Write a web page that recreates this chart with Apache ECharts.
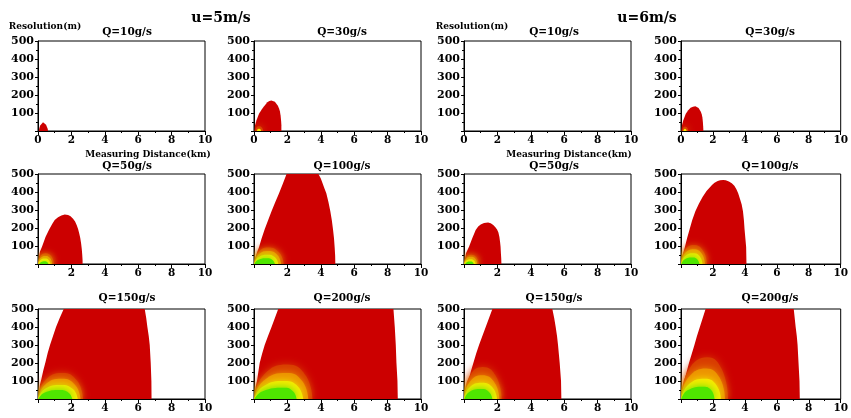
<!DOCTYPE html>
<html><head><meta charset="utf-8">
<script src="https://cdn.jsdelivr.net/npm/echarts@6/dist/echarts.min.js"></script>
<style>html,body{margin:0;padding:0;background:#fff}#c{width:851px;height:418px}</style>
</head><body><div id="c"></div>
<script>
// ---------- tick labels / titles ----------
const xTicks = [0, 2, 4, 6, 8, 10];
const yTicks = [0, 100, 200, 300, 400, 500];
const speedTitles = ['u=5m/s', 'u=6m/s'];
const panelTitles = ['Q=10g/s','Q=30g/s','Q=10g/s','Q=30g/s',
                     'Q=50g/s','Q=100g/s','Q=50g/s','Q=100g/s',
                     'Q=150g/s','Q=200g/s','Q=150g/s','Q=200g/s'];
const yAxisName = 'Resolution(m)';
const xAxisName = 'Measuring Distance(km)';

// ---------- outer (red) boundaries [km, m] ----------
const red_u5_q10 = [[0.05,0],[0.08,15],[0.13,30],[0.2,41],[0.3,48],[0.4,44],[0.48,35],[0.54,24],[0.58,12],[0.6,0]];
const red_u5_q30 = [[0.03,0],[0.06,30],[0.15,60],[0.3,96],[0.45,118],[0.58,135],[0.8,160],[0.92,167],[1.04,170],[1.15,168],[1.25,162],[1.35,152],[1.43,140],[1.5,125],[1.55,110],[1.59,88],[1.62,60],[1.64,30],[1.64,0]];
const red_u5_q50 = [[0.03,0],[0.06,40],[0.12,70],[0.24,96],[0.45,150],[0.66,190],[0.85,222],[1.0,244],[1.2,260],[1.4,270],[1.6,275],[1.8,272],[1.95,265],[2.1,252],[2.22,236],[2.32,215],[2.4,195],[2.47,170],[2.53,145],[2.58,115],[2.62,85],[2.65,50],[2.67,20],[2.67,0]];
const red_u5_q100 = [[0.02,0],[0.05,20],[0.1,40],[0.2,70],[0.3,93],[0.45,140],[0.64,193],[0.85,245],[1.05,293],[1.27,343],[1.5,393],[1.72,445],[1.95,500],[3.86,500],[4.0,475],[4.1,450],[4.22,420],[4.33,393],[4.46,343],[4.57,293],[4.66,243],[4.73,193],[4.79,143],[4.83,93],[4.86,45],[4.87,0]];
const red_u5_q150 = [[0,0],[0.05,35],[0.12,80],[0.2,110],[0.32,160],[0.45,205],[0.58,255],[0.72,300],[0.9,350],[1.08,400],[1.3,450],[1.54,500],[6.39,500],[6.48,450],[6.55,400],[6.63,350],[6.69,300],[6.72,250],[6.75,200],[6.79,100],[6.8,0]];
const red_u5_q200 = [[0,0],[0.04,35],[0.1,70],[0.18,100],[0.26,150],[0.34,200],[0.48,250],[0.64,300],[0.84,350],[1.05,400],[1.25,450],[1.45,500],[8.35,500],[8.43,400],[8.49,300],[8.53,200],[8.59,100],[8.61,0]];
const red_u6_q10 = [];
const red_u6_q30 = [[0.03,0],[0.06,30],[0.14,59],[0.3,96],[0.45,115],[0.6,129],[0.75,135],[0.9,137],[1.0,135],[1.1,128],[1.18,118],[1.25,106],[1.3,92],[1.34,75],[1.37,50],[1.39,25],[1.4,0]];
const red_u6_q50 = [[0.03,0],[0.06,30],[0.12,60],[0.3,96],[0.5,145],[0.7,189],[0.85,208],[1.0,220],[1.2,228],[1.44,230],[1.6,226],[1.75,217],[1.88,204],[1.98,192],[2.06,175],[2.12,150],[2.16,122],[2.19,96],[2.21,60],[2.23,30],[2.24,0]];
const red_u6_q100 = [[0.02,0],[0.04,20],[0.08,40],[0.15,65],[0.24,93],[0.38,143],[0.54,193],[0.7,243],[0.9,293],[1.12,335],[1.35,372],[1.6,405],[1.94,439],[2.1,452],[2.3,461],[2.45,465],[2.64,467],[2.8,465],[3.0,458],[3.18,448],[3.34,435],[3.47,415],[3.58,393],[3.7,360],[3.8,330],[3.88,293],[3.94,243],[3.98,193],[4.03,143],[4.08,93],[4.09,45],[4.1,0]];
const red_u6_q150 = [[0.02,0],[0.08,40],[0.16,70],[0.26,100],[0.4,150],[0.56,200],[0.72,250],[0.9,300],[1.1,350],[1.3,400],[1.5,450],[1.7,500],[5.29,500],[5.4,450],[5.49,400],[5.57,350],[5.63,300],[5.68,250],[5.73,200],[5.81,100],[5.83,0]];
const red_u6_q200 = [[0.02,0],[0.06,40],[0.12,70],[0.2,100],[0.35,150],[0.5,200],[0.67,250],[0.84,300],[1.0,350],[1.18,400],[1.36,450],[1.54,500],[7.06,500],[7.12,450],[7.18,400],[7.25,350],[7.3,300],[7.36,200],[7.42,100],[7.44,0]];

// ---------- inner contour levels (dark orange / orange / yellow / green) ----------
const o1_u5_q30 = [[0.08,0],[0.14,18],[0.3,26],[0.48,18],[0.55,0]];
const y_u5_q30  = [[0.18,0],[0.21,9],[0.3,13],[0.39,9],[0.42,0]];

const o1_u5_q50 = [[0,0],[0.13,42],[0.45,60],[0.81,42],[0.95,0]];
const o2_u5_q50 = [[0.01,0],[0.13,32],[0.45,45],[0.73,32],[0.85,0]];
const y_u5_q50  = [[0.02,0],[0.13,21],[0.42,30],[0.65,21],[0.75,0]];
const g_u5_q50  = [[0.08,0],[0.17,10],[0.4,15],[0.56,10],[0.62,0]];

const o1_u5_q100 = [[0,0],[0.25,64],[0.85,92],[1.51,64],[1.78,0]];
const o2_u5_q100 = [[0,0],[0.25,50],[0.85,72],[1.4,50],[1.62,0]];
const y_u5_q100  = [[0.01,0],[0.24,36],[0.82,52],[1.27,36],[1.45,0]];
const g_u5_q100  = [[0.03,0],[0.23,22],[0.78,32],[1.11,22],[1.25,0]];

const o1_u5_q150 = [[0,0],[0.42,102],[1.45,145],[2.34,102],[2.7,0]];
const o2_u5_q150 = [[0,0],[0.41,78],[1.42,112],[2.22,78],[2.55,0]];
const y_u5_q150  = [[0,0],[0.4,55],[1.38,78],[2.09,55],[2.38,0]];
const g_u5_q150  = [[0.02,0],[0.38,35],[1.3,50],[1.83,35],[2.05,0]];

const o1_u5_q200 = [[0,0],[0.58,134],[2.0,192],[3.07,134],[3.5,0]];
const o2_u5_q200 = [[0,0],[0.57,102],[1.95,145],[2.87,102],[3.25,0]];
const y_u5_q200  = [[0,0],[0.54,70],[1.85,100],[2.63,70],[2.95,0]];
const g_u5_q200  = [[0.02,0],[0.52,43],[1.8,62],[2.33,43],[2.55,0]];

const o1_u6_q30 = [[0.08,0],[0.12,16],[0.25,24],[0.4,16],[0.45,0]];
const y_u6_q30  = [[0.15,0],[0.18,9],[0.25,13],[0.32,9],[0.35,0]];

const o1_u6_q50 = [[0,0],[0.12,36],[0.42,52],[0.75,36],[0.88,0]];
const o2_u6_q50 = [[0.01,0],[0.12,28],[0.42,40],[0.69,28],[0.8,0]];
const y_u6_q50  = [[0.02,0],[0.13,19],[0.4,27],[0.61,19],[0.7,0]];
const g_u6_q50  = [[0.08,0],[0.17,10],[0.38,14],[0.52,10],[0.58,0]];

const o1_u6_q100 = [[0,0],[0.23,74],[0.8,105],[1.38,74],[1.62,0]];
const o2_u6_q100 = [[0,0],[0.23,57],[0.8,82],[1.3,57],[1.5,0]];
const y_u6_q100  = [[0.01,0],[0.23,42],[0.78,60],[1.18,42],[1.35,0]];
const g_u6_q100  = [[0.03,0],[0.22,25],[0.75,36],[1.03,25],[1.15,0]];

const o1_u6_q150 = [[0,0],[0.32,125],[1.12,178],[1.92,125],[2.25,0]];
const o2_u6_q150 = [[0,0],[0.32,92],[1.1,132],[1.82,92],[2.12,0]];
const y_u6_q150  = [[0,0],[0.31,63],[1.08,90],[1.72,63],[1.98,0]];
const g_u6_q150  = [[0.02,0],[0.3,38],[1.05,55],[1.51,38],[1.7,0]];

const o1_u6_q200 = [[0,0],[0.48,162],[1.65,232],[2.57,162],[2.95,0]];
const o2_u6_q200 = [[0,0],[0.46,119],[1.58,170],[2.41,119],[2.75,0]];
const y_u6_q200  = [[0,0],[0.44,78],[1.5,112],[2.21,78],[2.5,0]];
const g_u6_q200  = [[0.02,0],[0.41,48],[1.42,68],[1.9,48],[2.1,0]];

// ---------- layout ----------
const colLeft = [38, 254, 464, 681];
const rowTop = [41, 174, 309];
const plotW = 167, plotH = 90;
const titleX = [127, 342, 554, 770];
const titleY = [32, 166.5, 298];

const RED = '#CC0000';
const levelColors = ['#D83C00', '#EC9200', '#F8EA00', '#4FE600'];

const panels = [
  {red: red_u5_q10,  lv: []},
  {red: red_u5_q30,  lv: [o1_u5_q30, null, y_u5_q30, null]},
  {red: red_u6_q10,  lv: []},
  {red: red_u6_q30,  lv: [o1_u6_q30, null, y_u6_q30, null]},
  {red: red_u5_q50,  lv: [o1_u5_q50, o2_u5_q50, y_u5_q50, g_u5_q50]},
  {red: red_u5_q100, lv: [o1_u5_q100, o2_u5_q100, y_u5_q100, g_u5_q100]},
  {red: red_u6_q50,  lv: [o1_u6_q50, o2_u6_q50, y_u6_q50, g_u6_q50]},
  {red: red_u6_q100, lv: [o1_u6_q100, o2_u6_q100, y_u6_q100, g_u6_q100]},
  {red: red_u5_q150, lv: [o1_u5_q150, o2_u5_q150, y_u5_q150, g_u5_q150]},
  {red: red_u5_q200, lv: [o1_u5_q200, o2_u5_q200, y_u5_q200, g_u5_q200]},
  {red: red_u6_q150, lv: [o1_u6_q150, o2_u6_q150, y_u6_q150, g_u6_q150]},
  {red: red_u6_q200, lv: [o1_u6_q200, o2_u6_q200, y_u6_q200, g_u6_q200]}
];

const FONT = 'DejaVu Serif';
const grids = [], xAxes = [], yAxes = [], series = [], graphics = [];

panels.forEach((p, i) => {
  const r = Math.floor(i / 4), c = i % 4;
  grids.push({left: colLeft[c], top: rowTop[r], width: plotW, height: plotH,
    show: true, borderColor: '#000', borderWidth: 1, backgroundColor: 'transparent'});
  xAxes.push({type: 'value', gridIndex: i, min: xTicks[0], max: xTicks[xTicks.length - 1],
    interval: xTicks[1] - xTicks[0],
    axisLine: {show: true, lineStyle: {color: '#000', width: 1}},
    axisTick: {show: true, inside: false, length: 4, lineStyle: {color: '#000'}},
    minorTick: {show: true, splitNumber: 2, length: 2, lineStyle: {color: '#000'}},
    splitLine: {show: false},
    axisLabel: {show: true, margin: 4, color: '#000', fontFamily: FONT, fontWeight: 'bold', fontSize: 10.5,
      formatter: v => (r > 0 && v === 0) ? '' : String(v)}
  });
  yAxes.push({type: 'value', gridIndex: i, min: yTicks[0], max: yTicks[yTicks.length - 1],
    interval: yTicks[1] - yTicks[0],
    axisLine: {show: true, lineStyle: {color: '#000', width: 1}},
    axisTick: {show: true, inside: false, length: 3, lineStyle: {color: '#000'}},
    minorTick: {show: true, splitNumber: 2, length: 2, lineStyle: {color: '#000'}},
    splitLine: {show: false},
    axisLabel: {show: true, margin: 4, color: '#000', fontFamily: FONT, fontWeight: 'bold', fontSize: 11,
      formatter: v => v === 0 ? '' : String(v)}
  });
  const layers = [{d: p.red, col: RED, blur: 0, sm: false}];
  p.lv.forEach((d, k) => { if (d) layers.push({d: d, col: levelColors[k], blur: 8, sm: 0.5}); });
  layers.forEach(L => {
    series.push({type: 'line', xAxisIndex: i, yAxisIndex: i, data: L.d, smooth: L.sm,
      symbol: 'none', silent: true, clip: true, animation: false,
      lineStyle: {width: 0, opacity: 0},
      areaStyle: {color: L.col, opacity: 1, shadowBlur: L.blur, shadowColor: L.col}});
  });
  graphics.push({type: 'text', x: titleX[c], y: titleY[r], style: {text: panelTitles[i],
    fontFamily: FONT, fontWeight: 'bold', fontSize: 10.5, fill: '#000', align: 'center', verticalAlign: 'middle'}});
});

graphics.push({type: 'text', x: 221, y: 18, style: {text: speedTitles[0], fontFamily: FONT, fontWeight: 'bold', fontSize: 14, fill: '#000', align: 'center', verticalAlign: 'middle'}});
graphics.push({type: 'text', x: 647, y: 18, style: {text: speedTitles[1], fontFamily: FONT, fontWeight: 'bold', fontSize: 14, fill: '#000', align: 'center', verticalAlign: 'middle'}});
graphics.push({type: 'text', x: 45, y: 27, style: {text: yAxisName, fontFamily: FONT, fontWeight: 'bold', fontSize: 9, fill: '#000', align: 'center', verticalAlign: 'middle'}});
graphics.push({type: 'text', x: 472, y: 27, style: {text: yAxisName, fontFamily: FONT, fontWeight: 'bold', fontSize: 9, fill: '#000', align: 'center', verticalAlign: 'middle'}});
graphics.push({type: 'text', x: 148, y: 155, style: {text: xAxisName, fontFamily: FONT, fontWeight: 'bold', fontSize: 9, fill: '#000', align: 'center', verticalAlign: 'middle'}});
graphics.push({type: 'text', x: 569, y: 155, style: {text: xAxisName, fontFamily: FONT, fontWeight: 'bold', fontSize: 9, fill: '#000', align: 'center', verticalAlign: 'middle'}});

const chart = echarts.init(document.getElementById('c'), null, {renderer: 'canvas'});
chart.setOption({animation: false, backgroundColor: '#fff', grid: grids, xAxis: xAxes, yAxis: yAxes, series: series, graphic: graphics});
</script></body></html>
